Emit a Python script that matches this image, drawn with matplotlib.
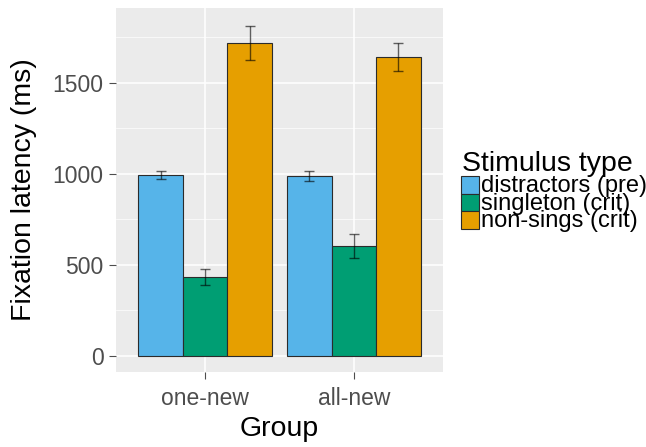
import numpy as np
import matplotlib
matplotlib.use("Agg")
import matplotlib.pyplot as plt
from matplotlib.patches import Rectangle

plt.rcParams['font.family'] = ['Liberation Sans', 'DejaVu Sans']

# data
groups = ["one-new", "all-new"]
stim_types = ["distractors (pre)", "singleton (crit)", "non-sings (crit)"]
distractors = [993, 987]
distractors_err = [20, 27]
singleton = [432, 603]
singleton_err = [43, 67]
nonsings = [1718, 1643]
nonsings_err = [92, 77]
colours = ["#56B4E9", "#009E73", "#E69F00"]

means = [distractors, singleton, nonsings]
errs = [distractors_err, singleton_err, nonsings_err]

fig = plt.figure(figsize=(6.46, 4.47), dpi=100)
W, H = 646, 447
ax = fig.add_axes([116 / W, (H - 372) / H, 327 / W, 364 / H])
ax.set_facecolor("#EBEBEB")
for s in ax.spines.values():
    s.set_visible(False)

x = np.arange(1, len(groups) + 1)
bw = 0.3
for k in range(len(stim_types)):
    xpos = x + (k - 1) * bw
    ax.bar(xpos, means[k], width=bw, color=colours[k], edgecolor="#2b2b2b",
           linewidth=0.8, zorder=3)
    ax.errorbar(xpos, means[k], yerr=errs[k], fmt="none", ecolor="black",
                alpha=0.6, elinewidth=1.0, capsize=3.3, capthick=1.0, zorder=4)

ax.set_xlim(0.4, 2.6)
ax.set_ylim(-90, 1910)
ax.set_yticks([0, 500, 1000, 1500])
ax.set_yticks([250, 750, 1250, 1750], minor=True)
ax.set_xticks(x)
ax.set_xticklabels(groups)
ax.grid(which="major", color="white", linewidth=1.1, zorder=0)
ax.grid(which="minor", axis="y", color="white", linewidth=0.5, zorder=0)
ax.set_axisbelow(True)
ax.tick_params(axis="both", which="major", labelsize=16.5, labelcolor="#4D4D4D",
               color="#4D4D4D", length=5, width=0.8, pad=4)
ax.tick_params(axis="x", which="major", pad=6)
ax.tick_params(axis="y", which="minor", length=0)

ax.set_xlabel("Group", fontsize=20.5, labelpad=4)
ax.set_ylabel("Fixation latency (ms)", fontsize=20.5, labelpad=11)

# legend, drawn by hand to get ggplot's tight key stacking
fig.text(462 / W, 1 - 171 / H, "Stimulus type", fontsize=20.5, ha="left",
         va="baseline")
key_top = 176
key_h = 17.7
for k, lab in enumerate(stim_types):
    y0 = key_top + k * key_h
    fig.patches.append(Rectangle((461 / W, 1 - (y0 + key_h) / H), 18 / W,
                                 key_h / H, transform=fig.transFigure,
                                 facecolor=colours[k], edgecolor="#2b2b2b",
                                 linewidth=0.8))
    fig.text(481 / W, 1 - (y0 + key_h / 2 + 1) / H, lab, fontsize=17,
             ha="left", va="center")

fig.savefig("out.png", dpi=100)
